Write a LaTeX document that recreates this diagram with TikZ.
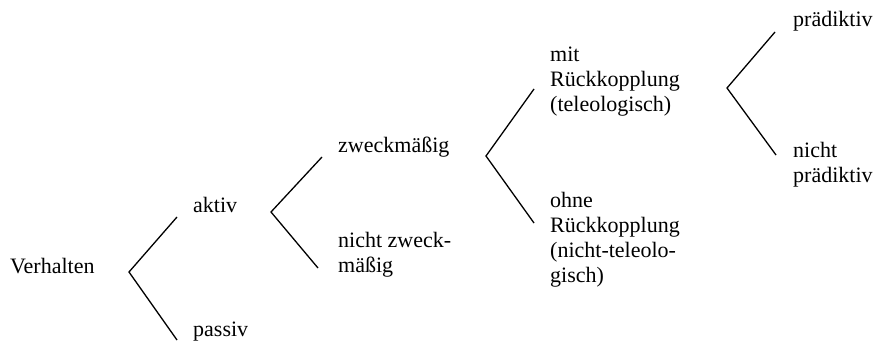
\documentclass[tikz,border=0pt]{standalone}
\usepackage{fontspec}
\setmainfont{Liberation Serif}
\newcommand{\mlines}[1]{\vtop{\baselineskip=25pt\lineskiplimit=-10pt\halign{##\hfil\cr#1\crcr}}}
\begin{document}
\begin{tikzpicture}[x=1pt,y=-1pt,
  lbl/.style={anchor=base west,inner sep=0pt,font=\fontsize{22}{25}\selectfont},
  fork/.style={line width=1.3pt,line join=miter}]
\useasboundingbox (0,0) rectangle (877,342);
% texts
\node[lbl] (verhalten) at (10,273) {Verhalten};
\node[lbl] (aktiv) at (193,212) {aktiv};
\node[lbl] (passiv) at (193,336) {passiv};
\node[lbl] (zweck) at (338,152) {zweckmäßig};
\node[lbl] (nzweck) at (338,247) {\mlines{nicht zweck-\cr mäßig}};
\node[lbl] (mit) at (550,62) {\mlines{mit\cr Rückkopplung\cr (teleologisch)}};
\node[lbl] (ohne) at (550,207) {\mlines{ohne\cr Rückkopplung\cr (nicht-teleolo-\cr gisch)}};
\node[lbl] (praed) at (793,27) {prädiktiv};
\node[lbl] (npraed) at (793,157) {\mlines{nicht\cr prädiktiv}};
% fork points
\coordinate (v1) at (129,272);
\coordinate (a1) at (177,217);
\coordinate (b1) at (177,340);
\coordinate (v2) at (271,212);
\coordinate (a2) at (322,157);
\coordinate (b2) at (318,268);
\coordinate (v3) at (486,156);
\coordinate (a3) at (534,89);
\coordinate (b3) at (534,223);
\coordinate (v4) at (727,88);
\coordinate (a4) at (775,32);
\coordinate (b4) at (776,155);
\draw[fork] (a1) -- (v1) -- (b1);
\draw[fork] (a2) -- (v2) -- (b2);
\draw[fork] (a3) -- (v3) -- (b3);
\draw[fork] (a4) -- (v4) -- (b4);
\end{tikzpicture}
\end{document}
